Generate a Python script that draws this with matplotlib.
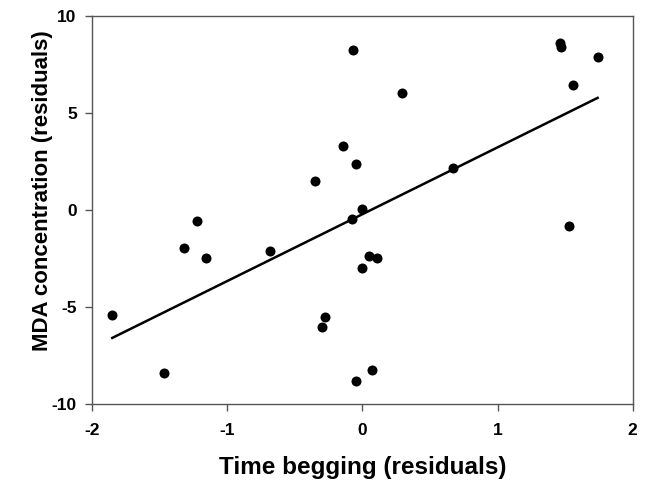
import numpy as np
import matplotlib
matplotlib.use("Agg")
import matplotlib.pyplot as plt

# residuals
time_begging = [-0.07, -0.14, -0.05, -0.35, 0.00, -0.08, -1.22, 0.29, 1.46, 1.47,
                1.74, 1.56, 0.67, -1.32, -1.16, -0.68, -1.85, -1.47, -0.28, -0.30,
                -0.05, 0.07, 0.05, 0.11, 0.00, 1.53]
mda_conc = [8.23, 3.28, 2.39, 1.49, 0.05, -0.46, -0.58, 6.03, 8.59, 8.39,
            7.90, 6.44, 2.15, -1.96, -2.46, -2.13, -5.40, -8.42, -5.50, -6.03,
            -8.81, -8.25, -2.35, -2.49, -2.97, -0.84]
fit_slope, fit_intercept = 3.446, -0.22

x = np.array(time_begging); y = np.array(mda_conc)

plt.rcParams["font.family"] = ["Liberation Sans", "DejaVu Sans"]
plt.rcParams["axes.unicode_minus"] = False
fig = plt.figure(figsize=(6.45, 4.83), dpi=100)
ax = fig.add_axes([0.1426, 0.1636, 0.981 - 0.1426, 0.967 - 0.1636])

ax.scatter(x, y, s=52, color="black", zorder=3, linewidths=0)
xl = np.array([x.min(), x.max()])
ax.plot(xl, fit_slope * xl + fit_intercept, color="black", lw=1.8, zorder=2)

ax.set_xlim(-2, 2); ax.set_ylim(-10, 10)
ax.set_xticks([-2, -1, 0, 1, 2]); ax.set_yticks([-10, -5, 0, 5, 10])
for s in ax.spines.values():
    s.set_color("#555555"); s.set_linewidth(1.0)
ax.tick_params(direction="out", length=5, width=1, color="#555555", labelsize=12.5, pad=6)
ax.tick_params(axis="x", pad=9)
for lab in ax.get_xticklabels() + ax.get_yticklabels():
    lab.set_fontweight("bold")
ax.set_xlabel("Time begging (residuals)", fontsize=17.5, fontweight="bold")
ax.set_ylabel("MDA concentration (residuals)", fontsize=16, fontweight="bold")
ax.xaxis.set_label_coords(0.5, -0.135)
ax.yaxis.set_label_coords(-0.072, 0.549)

fig.savefig("out.png", dpi=100)
